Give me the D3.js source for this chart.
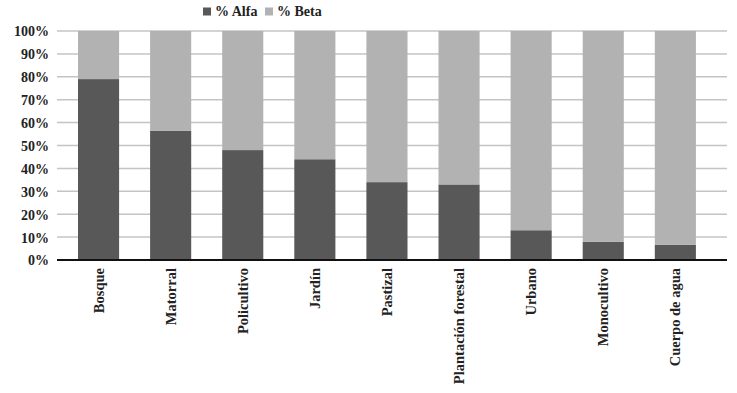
<!DOCTYPE html>
<html><head><meta charset="utf-8">
<script src="https://cdn.jsdelivr.net/npm/d3@7"></script>
<style>body{margin:0;background:#fff}svg{display:block}
svg text{font-family:"Liberation Serif","DejaVu Serif","Times New Roman",serif !important;font-weight:bold;fill:#222}</style>
</head><body>
<svg id="c" width="737" height="393"></svg>
<script>
const categories = ["Bosque","Matorral","Policultivo","Jardín","Pastizal","Plantación forestal","Urbano","Monocultivo","Cuerpo de agua"];
const alfa = [79, 56.5, 48, 44, 34, 33, 13, 8, 6.7];
const beta = alfa.map(a => 100 - a);
const yTicks = [0,10,20,30,40,50,60,70,80,90,100];
const seriesNames = ["% Alfa","% Beta"];
const colors = ["#585858","#b2b2b2"];

const svg = d3.select("#c");
const gridX0 = 57, gridX1 = 727;
const y = d3.scaleLinear().domain([0,100]).range([260,31]);
const x = d3.scaleBand().domain(categories).range([62.5, 711.4]).paddingInner(0.43).paddingOuter(0.215);

// gridlines
svg.append("g").selectAll("line").data(yTicks.filter(t=>t>0)).join("line")
  .attr("x1",gridX0).attr("x2",gridX1)
  .attr("y1",d=>y(d)).attr("y2",d=>y(d))
  .attr("stroke","#c4c4c4").attr("stroke-width",1.5);

// stacked bars
const data = categories.map((c,i)=>({cat:c, a:alfa[i], b:beta[i]}));
const stack = d3.stack().keys(["a","b"])(data);
svg.append("g").selectAll("g").data(stack).join("g")
  .attr("fill",(d,i)=>colors[i])
  .selectAll("rect").data(d=>d).join("rect")
  .attr("x",d=>x(d.data.cat)).attr("width",x.bandwidth())
  .attr("y",d=>y(d[1])).attr("height",d=>y(d[0])-y(d[1]));

// y axis labels
const yAxis = d3.axisLeft(y).tickValues(yTicks).tickFormat(d=>d+"%").tickSize(0).tickPadding(0);
const ya = svg.append("g").attr("transform","translate(49,0)").call(yAxis);
ya.select(".domain").remove();
ya.selectAll("text").style("font-size","14px").attr("dy","0.35em");

// x axis baseline
svg.append("line").attr("x1",gridX0).attr("x2",gridX1).attr("y1",y(0)).attr("y2",y(0))
  .attr("stroke","#111").attr("stroke-width",2);

// x labels
const xAxis = d3.axisBottom(x).tickSize(0).tickPadding(0);
const xa = svg.append("g").attr("transform","translate(0,268)").call(xAxis);
xa.select(".domain").remove();
xa.selectAll("text").attr("transform","rotate(-90)").attr("text-anchor","end")
  .attr("x",0).attr("y",0).attr("dy","0.35em").style("font-size","14.5px");

// legend
const lx = [203, 265];
const lg = svg.append("g");
seriesNames.forEach((n,i)=>{
  lg.append("rect").attr("x",lx[i]).attr("y",7.5).attr("width",8).attr("height",8).attr("fill",colors[i]);
  lg.append("text").attr("x",lx[i]+12).attr("y",11.5).attr("dy","0.35em").text(n).style("font-size","14px");
});
</script>
</body></html>
